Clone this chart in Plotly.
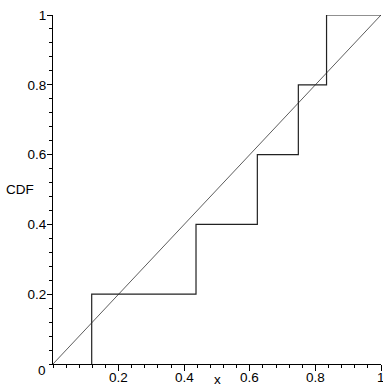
import plotly.graph_objects as go

# Data
jump_x = [0.118, 0.436, 0.623, 0.748, 0.834]
cdf_levels = [0.2, 0.4, 0.6, 0.8, 1.0]
diag_x = [0, 1]
diag_y = [0, 1]
x_ticks = [0.2, 0.4, 0.6, 0.8, 1.0]
x_ticktext = ["0.2", "0.4", "0.6", "0.8", "1"]
y_ticks = [0.2, 0.4, 0.6, 0.8, 1.0]
y_ticktext = ["0.2", "0.4", "0.6", "0.8", "1"]

step_x = [jump_x[0]] + jump_x + [1.0]
step_y = [0.0] + cdf_levels + [1.0]

fig = go.Figure()
fig.add_trace(go.Scatter(x=diag_x, y=diag_y, mode="lines",
                         line=dict(color="#333333", width=0.8), cliponaxis=False,
                         hoverinfo="skip"))
fig.add_trace(go.Scatter(x=step_x, y=step_y, mode="lines", line_shape="hv",
                         line=dict(color="#222222", width=1.2), cliponaxis=False,
                         hoverinfo="skip"))

font = dict(family="Liberation Sans, Arial, sans-serif", size=13.5, color="#000000")

annotations = [
    dict(text="CDF", x=-0.1, y=0.5, xref="paper", yref="paper",
         xanchor="center", yanchor="middle", showarrow=False, font=font),
    dict(text="x", x=0.5, y=-0.045, xref="paper", yref="paper",
         xanchor="center", yanchor="middle", showarrow=False, font=font),
    dict(text="0", x=-0.034, y=-0.02, xref="paper", yref="paper",
         xanchor="center", yanchor="middle", showarrow=False, font=font),
]
for tv, tt in zip(x_ticks, x_ticktext):
    annotations.append(dict(text=tt, x=tv, y=-0.039, xref="x", yref="paper",
                            xanchor="center", yanchor="middle", showarrow=False,
                            font=font))

fig.update_layout(
    width=383, height=386,
    margin=dict(l=53, r=2, t=15, b=22),
    paper_bgcolor="white", plot_bgcolor="white",
    showlegend=False,
    font=font,
    xaxis=dict(range=[0, 1], showgrid=False, zeroline=False,
               showline=True, linecolor="#000000", linewidth=1,
               tickvals=x_ticks, showticklabels=False,
               ticks="outside", ticklen=6, tickcolor="#000000", tickwidth=1,
               minor=dict(dtick=0.04, tick0=0, ticks="outside", ticklen=3,
                          tickcolor="#000000", tickwidth=1, showgrid=False),
               fixedrange=True, automargin=False),
    yaxis=dict(range=[0, 1], showgrid=False, zeroline=False,
               showline=True, linecolor="#000000", linewidth=1,
               tickvals=y_ticks, ticktext=y_ticktext,
               ticks="outside", ticklen=5, tickcolor="#000000", tickwidth=1,
               ticklabelstandoff=-2,
               minor=dict(dtick=0.04, tick0=0, ticks="outside", ticklen=3,
                          tickcolor="#000000", tickwidth=1, showgrid=False),
               tickfont=font, fixedrange=True, automargin=False),
    annotations=annotations,
)

fig.write_html("out.html", config={"displayModeBar": False},
               post_script="document.body.style.margin='0';document.body.style.padding='0';")
